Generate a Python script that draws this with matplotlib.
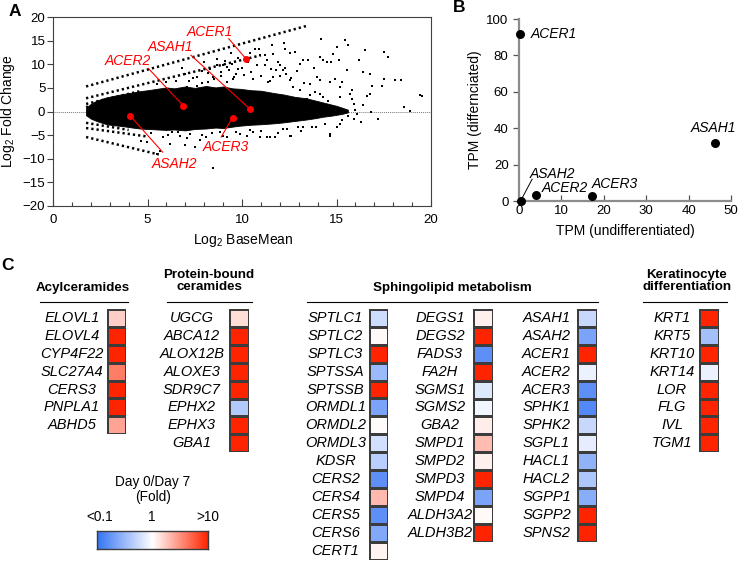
import numpy as np
import matplotlib
matplotlib.use("Agg")
import matplotlib.pyplot as plt
from matplotlib.colors import LinearSegmentedColormap
from matplotlib.lines import Line2D

plt.rcParams['font.family'] = ['Liberation Sans', 'DejaVu Sans']
plt.rcParams['mathtext.fontset'] = 'custom'
plt.rcParams['mathtext.rm'] = 'Liberation Sans'
plt.rcParams['mathtext.it'] = 'Liberation Sans:italic'

# ---------------- Panel A data (MA plot) ----------------
# outline of the dense (solid-looking) part of the point cloud
cloud_x  = [1.75, 2.0, 2.3, 2.6, 2.85, 3.2, 3.7, 4.2, 4.6, 5.0, 5.5, 6.0, 6.4, 7.0, 7.5, 8.1,
            8.6, 9.0, 9.5, 9.9, 10.5, 11.0, 11.7, 12.2, 12.8, 13.4, 13.9, 14.3, 14.7, 15.0,
            15.3, 15.6]
cloud_hi = [0.8, 1.6, 2.3, 2.7, 3.0, 3.3, 3.7, 4.0, 4.3, 4.5, 4.8, 5.1, 4.9, 5.3, 5.0, 5.4,
            5.1, 5.3, 4.9, 4.8, 4.5, 4.4, 3.9, 3.6, 3.1, 2.8, 2.3, 1.9, 1.5, 1.2, 0.8, 0.4]
cloud_lo = [-0.8, -1.5, -2.0, -2.4, -2.7, -2.9, -3.1, -3.4, -3.6, -3.7, -3.8, -3.9, -3.8,
            -4.0, -3.7, -3.6, -3.4, -3.5, -3.2, -3.0, -2.8, -2.7, -2.5, -2.3, -2.0, -1.7,
            -1.4, -1.1, -0.9, -0.7, -0.5, -0.2]

# streaks of low-count genes (start/end)
streak_x0 = [1.75, 1.75, 1.75, 1.75, 1.75, 1.75, 1.75]
streak_y0 = [5.3, 2.8, 1.6, 0.9, -5.4, -3.5, -2.4]
streak_x1 = [13.4, 11.0, 4.6, 3.4, 5.6, 5.0, 4.0]
streak_y1 = [18.1, 11.9, 4.3, 2.8, -9.1, -5.3, -3.9]

# scattered outlier genes
ma_x = [14.2, 15.45, 15.0, 15.63, 16.5, 17.5, 17.7, 16.2, 15.15, 14.8, 14.7, 14.5, 14.13,
        14.3, 13.5, 13.25, 13.07, 12.8, 12.28, 12.55, 11.66, 11.3, 10.95, 16.42, 16.77, 15.55,
        15.3, 14.92, 14.66, 14.13, 13.95, 13.6, 15.19, 15.8, 16.6, 16.77, 16.9, 17.5, 17.39,
        18.1, 18.4, 19.42, 19.5, 18.89, 18.57, 17.2, 16.8, 16.42, 15.8, 15.7, 15.19, 14.55,
        16.07, 15.95, 15.19, 15.0, 14.66, 13.7, 13.25, 12.95, 12.55, 11.76, 11.46, 10.95, 10.6,
        10.25, 12.17, 12.0, 11.8, 11.56, 11.2, 12.0, 12.17, 12.35, 11.66, 11.4, 12.7, 12.54,
        13.07, 13.42, 13.6, 13.86, 14.13, 14.3, 8.48, 8.9, 9.19, 9.45, 9.7, 8.2, 7.6, 7.07,
        9.19, 9.54, 9.8, 9.0, 8.3, 10.4, 10.7, 7.4, 7.9, 8.7,
        6.98, 7.5, 8.48, 5.49, 4.67, 5.8, 6.7, 7.25, 7.78, 8.1, 6.3, 8.84, 9.19, 6.2, 4.96,
        5.66, 9.9, 11.3, 12.6, 14.66, 14.2,
        7.2, 7.6, 7.9, 8.2, 8.5, 8.7, 8.9, 9.1, 9.3, 9.6, 9.8, 10.0, 10.1, 10.3, 10.5, 10.6,
        10.8, 11.0, 11.2, 11.5, 11.9, 12.3, 12.6, 12.9, 13.3, 13.8, 6.5, 6.0, 5.5, 7.0, 6.8,
        8.0, 9.4, 10.9, 11.6, 12.2,
        5.2, 6.1, 6.6, 7.1, 7.9, 8.4, 9.0, 9.7, 10.4, 11.0, 11.9, 12.4, 13.1, 13.9, 14.4,
        15.3, 15.6, 16.0, 15.9, 16.3]
ma_y = [15.4, 15.2, 13.6, 14.0, 13.1, 12.6, 11.5, 10.9, 10.8, 12.2, 10.5, 10.5, 11.5,
        10.8, 10.8, 10.8, 10.1, 12.6, 13.3, 12.4, 12.2, 10.8, 11.9, 8.3, 8.0, 8.7,
        6.2, 6.9, 6.2, 6.6, 7.3, 5.9, 5.15, 4.45, 3.2, 3.75, 5.5, 6.9, 5.3,
        6.6, 6.7, 3.4, 3.2, 0.2, 0.9, -1.55, -0.1, 1.3, 2.7, 3.75, 3.0, 2.3,
        -0.5, -1.55, -2.6, -3.3, -4.7, -3.3, -3.3, -3.3, -5.1, -5.3, -5.4, -5.3, -4.4,
        -5.1, -3.7, 7.6, 8.7, 9.0, 9.75, 9.75, 8.7, 8.0, 7.3, 6.2, 5.15, 6.6,
        4.45, 2.7, 3.4, 4.1, 3.75, 3.0, 7.27, 8.3, 9.4, 10.1, 8.0, 6.2, 5.5, 5.15,
        6.2, 6.9, 9.0, 9.75, 9.0, 12.4, 13.2, 7.0, 8.6, 11.2,
        -7.06, -7.5, -12.0, -8.97, -6.3, -5.4, -5.1, -4.7, -6.0, -5.4, -4.4, -4.4, -5.4, -6.85, -6.5,
        -8.26, -4.7, -5.4, -5.1, -5.1, 15.4,
        6.5, 7.2, 6.1, 8.1, 6.8, 9.8, 7.5, 10.6, 8.8, 7.4, 11.3, 9.3, 7.8, 10.5, 8.4, 6.9,
        9.8, 7.6, 12.0, 6.5, 10.4, 9.3, 7.0, 8.5, 6.0, 9.2, 6.4, 6.2, 5.9, 8.0, 9.3,
        10.4, 12.4, 13.2, 14.0, 14.6,
        -4.6, -5.0, -4.4, -5.6, -4.9, -4.5, -5.1, -4.3, -4.0, -4.2, -4.6, -3.6, -4.2, -3.2, -2.6,
        -1.8, -1.0, 0.3, 1.5, -2.2]

hl_genes = ['ACER1', 'ASAH1', 'ACER2', 'ASAH2', 'ACER3']
hl_x = [10.2, 10.4, 6.9, 4.07, 9.5]
hl_y = [11.2, 0.6, 1.2, -0.85, -1.27]
hl_lx = [8.3, 6.2, 3.95, 6.45, 9.15]      # label centres
hl_ly = [16.8, 13.6, 10.6, -11.1, -7.55]
hl_ex = [9.3, 7.3, 5.05, 5.8, 8.9]        # leader-line end near label
hl_ey = [15.4, 11.9, 9.1, -8.6, -5.4]

# ---------------- Panel B data ----------------
b_genes = ['ACER1', 'ASAH1', 'ASAH2', 'ACER2', 'ACER3']
b_undiff = [0.3, 46.2, 0.4, 4.0, 17.2]
b_diff = [92.0, 32.0, 0.0, 3.3, 2.9]

# ---------------- Panel C data (log10 fold, Day0/Day7) ----------------
acyl_genes = ['ELOVL1', 'ELOVL4', 'CYP4F22', 'SLC27A4', 'CERS3', 'PNPLA1', 'ABHD5']
acyl_vals = [0.22, 1.0, 1.0, 0.6, 1.0, 1.0, 0.42]
pb_genes = ['UGCG', 'ABCA12', 'ALOX12B', 'ALOXE3', 'SDR9C7', 'EPHX2', 'EPHX3', 'GBA1']
pb_vals = [0.15, 1.0, 1.0, 1.0, 1.0, -0.38, 1.0, 1.0]
sph1_genes = ['SPTLC1', 'SPTLC2', 'SPTLC3', 'SPTSSA', 'SPTSSB', 'ORMDL1', 'ORMDL2',
              'ORMDL3', 'KDSR', 'CERS2', 'CERS4', 'CERS5', 'CERS6', 'CERT1']
sph1_vals = [-0.25, 0.03, 1.0, -0.5, 1.0, -0.65, 0.02, -0.22, -0.35, -0.8, 0.32, -0.8, -0.62, 0.05]
sph2_genes = ['DEGS1', 'DEGS2', 'FADS3', 'FA2H', 'SGMS1', 'SGMS2', 'GBA2', 'SMPD1',
              'SMPD2', 'SMPD3', 'SMPD4', 'ALDH3A2', 'ALDH3B2']
sph2_vals = [0.07, 1.0, -0.8, 1.0, -0.17, -0.07, 0.08, 0.3, 0.07, 1.0, -0.65, 0.03, 1.0]
sph3_genes = ['ASAH1', 'ASAH2', 'ACER1', 'ACER2', 'ACER3', 'SPHK1', 'SPHK2', 'SGPL1',
              'HACL1', 'HACL2', 'SGPP1', 'SGPP2', 'SPNS2']
sph3_vals = [-0.28, -0.65, 1.0, -0.1, -0.8, -0.85, -0.28, -0.13, -0.55, -0.4, -0.58, 1.0, 1.0]
ker_genes = ['KRT1', 'KRT5', 'KRT10', 'KRT14', 'LOR', 'FLG', 'IVL', 'TGM1']
ker_vals = [1.0, -0.45, 1.0, -0.1, 1.0, 1.0, 1.0, 1.0]

cbar_ticks = ['<0.1', '1', '>10']

# ====================================================================
W, H = 740, 561
fig = plt.figure(figsize=(W / 100, H / 100), dpi=100)

def rect(x0, y0, x1, y1):
    return [x0 / W, 1 - y1 / H, (x1 - x0) / W, (y1 - y0) / H]

def fx(px):
    return px / W

def fy(py):
    return 1 - py / H

# ---------------- Panel A ----------------
axA = fig.add_axes(rect(53, 17, 431, 206))
axA.set_xlim(0, 20)
axA.set_ylim(-20, 20)
axA.axhline(0, color='#777777', lw=0.7, ls=(0, (1, 1)), zorder=1)
axA.fill_between(cloud_x, cloud_lo, cloud_hi, color='black', lw=0.6, zorder=3)
for x0, y0, x1, y1 in zip(streak_x0, streak_y0, streak_x1, streak_y1):
    axA.plot([x0, x1], [y0, y1], color='black', lw=1.8, ls=(0, (0.9, 1.2)), zorder=3)
axA.scatter(ma_x, ma_y, s=4, marker='s', color='black', lw=0, zorder=3)
for g, x, y, lx, ly, ex, ey in zip(hl_genes, hl_x, hl_y, hl_lx, hl_ly, hl_ex, hl_ey):
    axA.plot([ex, x], [ey, y], color='red', lw=0.8, zorder=4)
    axA.plot([x], [y], 'o', color='red', ms=4, zorder=5)
    axA.text(lx, ly, g, color='red', fontsize=10, style='italic', ha='center',
             va='center', zorder=5)
for s in axA.spines.values():
    s.set_color('#404040')
    s.set_linewidth(0.8)
axA.set_yticks(np.arange(-20, 21, 5))
axA.set_yticklabels(['\u221220', '\u221215', '\u221210', '\u22125', '0', '5', '10', '15', '20'])
axA.set_xticks(np.arange(0, 21, 5))
axA.set_xticks(np.arange(0, 21, 1), minor=True)
axA.tick_params(axis='x', which='major', direction='in', length=5, width=0.8,
                labelsize=9.5, pad=6, color='#404040')
axA.tick_params(axis='x', which='minor', direction='in', length=3, width=0.8, color='#404040')
axA.tick_params(axis='y', which='major', direction='out', length=4, width=0.8,
                labelsize=9.5, pad=1.5, color='#404040')
axA.set_ylabel('Log$_2$ Fold Change', fontsize=10)
axA.yaxis.set_label_coords(-0.095, 0.5)
axA.set_xlabel('Log$_2$ BaseMean', fontsize=10)
axA.xaxis.set_label_coords(0.503, -0.14)

# ---------------- Panel B ----------------
axB = fig.add_axes(rect(519, 19, 731, 201))
axB.set_xlim(0, 50)
axB.set_ylim(0, 100)
axB.scatter(b_undiff, b_diff, s=30, color='black', zorder=5, clip_on=False)
for sname in ['top', 'right']:
    axB.spines[sname].set_visible(False)
for sname in ['left', 'bottom']:
    axB.spines[sname].set_color('#8c8c8c')
    axB.spines[sname].set_linewidth(1.6)
axB.set_xticks(np.arange(0, 51, 10))
axB.set_yticks(np.arange(0, 101, 20))
axB.tick_params(axis='x', direction='in', length=4, width=0.9, color='#555555',
                labelsize=9.5, pad=3)
axB.tick_params(axis='y', direction='out', length=4, width=0.9, color='#555555',
                labelsize=9.5)
bi = {g: i for i, g in enumerate(b_genes)}
axB.text(2.8, b_diff[bi['ACER1']], 'ACER1', style='italic', fontsize=10, ha='left', va='center')
axB.text(b_undiff[bi['ASAH1']] - 0.3, 40.3, 'ASAH1', style='italic', fontsize=10,
         ha='center', va='center')
axB.text(2.6, 14.8, 'ASAH2', style='italic', fontsize=10, ha='left', va='center')
axB.plot([0.6, 3.1], [1.0, 12.0], color='black', lw=0.7)
axB.text(5.3, 7.3, 'ACER2', style='italic', fontsize=10, ha='left', va='center')
axB.text(22.5, 9.2, 'ACER3', style='italic', fontsize=10, ha='center', va='center')
axB.set_ylabel('TPM (differnciated)', fontsize=10)
axB.yaxis.set_label_coords(-0.175, 0.5)
axB.set_xlabel('TPM (undifferentiated)', fontsize=10)
axB.xaxis.set_label_coords(0.5, -0.125)

# panel letters
fig.text(fx(15), fy(11), 'A', fontsize=12.5, fontweight='bold', ha='center', va='center')
fig.text(fx(459), fy(8), 'B', fontsize=12.5, fontweight='bold', ha='center', va='center')
fig.text(fx(8), fy(266), 'C', fontsize=12.5, fontweight='bold', ha='center', va='center')

# ---------------- Panel C ----------------
cmap = LinearSegmentedColormap.from_list('bwr2', ['#3574f5', '#ffffff', '#ff2400'])
TOP = 309.0
ROW = 17.9
CW = 19.3

def heat(genes, vals, xleft, xlabel):
    n = len(genes)
    ax = fig.add_axes(rect(xleft, TOP, xleft + CW, TOP + n * ROW))
    arr = np.array(vals, dtype=float).reshape(n, 1)
    ax.pcolormesh(arr, cmap=cmap, vmin=-1, vmax=1, edgecolors='#3c3c3c', linewidth=0.9)
    ax.set_ylim(n, 0)
    ax.set_xlim(0, 1)
    ax.axis('off')
    for i, g in enumerate(genes):
        fig.text(fx(xlabel), fy(TOP + (i + 0.5) * ROW), g, style='italic', fontsize=10.5,
                 ha='center', va='center')

heat(acyl_genes, acyl_vals, 107.0, 72)
heat(pb_genes, pb_vals, 229.3, 192)
heat(sph1_genes, sph1_vals, 368.7, 335.5)
heat(sph2_genes, sph2_vals, 473.3, 440)
heat(sph3_genes, sph3_vals, 577.3, 546.5)
heat(ker_genes, ker_vals, 699.3, 672)

def header(txt, xc, yc, x0, x1):
    fig.text(fx(xc), fy(yc), txt, fontsize=9.6, fontweight='bold', ha='center',
             va='center', linespacing=1.0)
    fig.add_artist(Line2D([fx(x0), fx(x1)], [fy(302), fy(302)], color='black', lw=0.8))

header('Acylceramides', 83, 288, 40, 128)
header('Protein-bound\nceramides', 209, 281, 167, 252)
header('Sphingolipid metabolism', 452, 288, 306.7, 598)
header('Keratinocyte\ndifferentiation', 686.7, 281, 642.7, 726.7)

# colorbar
axC = fig.add_axes(rect(97.3, 530.7, 207.7, 549))
grad = np.linspace(-1, 1, 256).reshape(1, -1)
axC.imshow(grad, cmap=cmap, vmin=-1, vmax=1, aspect='auto', extent=[-1, 1, 0, 1])
axC.set_xticks([])
axC.set_yticks([])
for s in axC.spines.values():
    s.set_color('#3c3c3c')
    s.set_linewidth(1.0)
fig.text(fx(153), fy(489.5), 'Day 0/Day 7\n(Fold)', fontsize=9.8, ha='center', va='center',
         linespacing=1.05)
for t, px in zip(cbar_ticks, [100, 151.7, 207.7]):
    fig.text(fx(px), fy(517), t, fontsize=9.8, ha='center', va='center')

fig.savefig('out.png', dpi=100)
